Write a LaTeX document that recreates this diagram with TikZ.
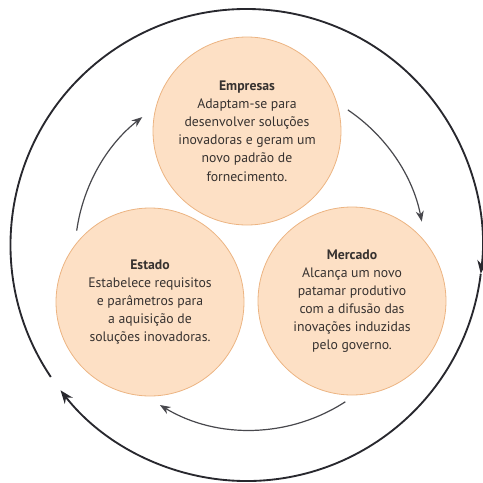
\documentclass[tikz,border=0pt]{standalone}
\usepackage{fontspec}
\setmainfont{PT Sans}
\usetikzlibrary{arrows.meta,calc}

\definecolor{peach}{RGB}{253,224,197}
\definecolor{peachline}{RGB}{236,180,130}
\definecolor{txtgray}{RGB}{55,50,48}
\definecolor{arrgray}{RGB}{40,40,46}

\tikzset{every picture/.style={line width=0.75pt}}
\tikzset{
  actor/.style={circle, draw=peachline, fill=peach, line width=0.6pt,
    minimum size=141pt, inner sep=0pt, align=center, text=txtgray,
    font=\fontsize{10.3}{13.6}\selectfont},
  outerflow/.style={draw=arrgray, line width=1.4pt, -{Stealth[length=10pt,width=7.5pt]}},
  innerflow/.style={draw=arrgray!85, line width=0.9pt, -{Stealth[length=8pt,width=6pt]}}
}

\begin{document}
\begin{tikzpicture}[x=0.75pt,y=0.75pt,yscale=-1,xscale=1]
\useasboundingbox (0,0) rectangle (483,483);

%Centres of the two rings
\coordinate (rim) at (246.5,245);
\coordinate (hub) at (250,255);

%Shape: Circle [Empresas]
\node[actor] (empresas) at (247,131) {\textbf{Empresas}\\Adaptam-se para\\desenvolver soluções\\inovadoras e geram um\\novo padrão de\\fornecimento.};
%Shape: Circle [Estado]
\node[actor] (estado) at (150,302) {\textbf{Estado}\\Estabelece requisitos\\e parâmetros para\\a aquisição de\\soluções inovadoras.};
%Shape: Circle [Mercado]
\node[actor] (mercado) at (352,301) {\textbf{Mercado}\\Alcança um novo\\patamar produtivo\\com a difusão das\\inovações induzidas\\pelo governo.};

%Curve Lines [outer ring]
\coordinate (o1) at ($(rim)+(-214:236)$);
\coordinate (o2) at ($(rim)+(7:236)$);
\draw[outerflow] (o1) arc[start angle=-214, end angle=7, radius=236];
\draw[outerflow] (o2) arc[start angle=7, end angle=142, radius=236];

%Curve Lines [inner ring]
\coordinate (i1) at ($(hub)+(-172:175)$);
\coordinate (i2) at ($(hub)+(-56:175)$);
\coordinate (i3) at ($(hub)+(57:175)$);
\draw[innerflow] (i1) arc[start angle=-172, end angle=-128, radius=175];
\draw[innerflow] (i2) arc[start angle=-56, end angle=-11, radius=175];
\draw[innerflow] (i3) arc[start angle=57, end angle=121, radius=175];

\end{tikzpicture}
\end{document}
